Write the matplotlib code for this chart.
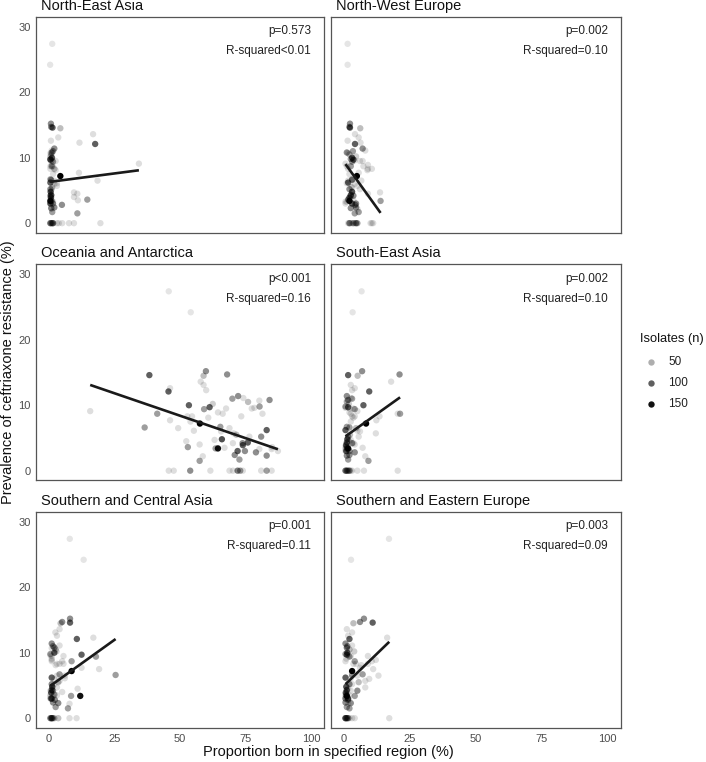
import numpy as np
import matplotlib
matplotlib.use("Agg")
import matplotlib.pyplot as plt

plt.rcParams['font.family'] = ['Liberation Sans', 'DejaVu Sans']

regions = ["North-East Asia", "North-West Europe", "Oceania and Antarctica",
           "South-East Asia", "Southern and Central Asia", "Southern and Eastern Europe"]

# prevalence of ceftriaxone resistance (%) per location (shared across panels)
prevalence = [27.4, 24.2, 9.1, 14.6, 6.6, 8.7, 12.1, 12.6, 7.7, 6.5,
              4.5, 3.6, 10.0, 8.3, 8.3, 7.5, 6.1, 7.2, 4.0, 1.5,
              2.2, 15.2, 13.6, 13.1, 12.3, 9.4, 9.7, 8.1, 0.0, 4.7,
              3.4, 3.4, 8.9, 6.7, 6.0, 8.7, 3.5, 9.5, 14.7, 6.5,
              4.2, 5.7, 11.4, 11.1, 2.4, 3.0, 1.7, 8.3, 4.2, 3.0,
              4.3, 5.2, 9.5, 9.6, 10.7, 9.8, 8.7, 10.8, 5.2, 6.2,
              3.3, 3.3, 2.3, 3.6, 3.0, 0.0, 0.0, 0.0, 0.0, 0.0,
              0.0, 0.0, 0.0, 0.0, 0.0, 0.0, 14.5, 11.0, 10.5, 4.8,
              5.5, 2.8, 3.9, 10.2]
# number of isolates per location
isolates = [15, 15, 20, 100, 60, 60, 100, 20, 20, 20,
            20, 60, 100, 20, 20, 20, 20, 160, 20, 60,
            20, 70, 20, 20, 20, 60, 100, 20, 20, 20,
            60, 150, 20, 60, 20, 20, 20, 20, 70, 20,
            20, 20, 70, 20, 70, 100, 60, 20, 70, 70,
            100, 20, 20, 20, 20, 60, 20, 70, 70, 100,
            20, 20, 70, 20, 20, 20, 20, 70, 20, 20,
            80, 60, 20, 20, 60, 20, 40, 60, 40, 110,
            40, 70, 100, 30]
# proportion born in each region (%) per location
x_ne_asia = [1.2, 0.4, 34.3, 1.3, 0.8, 1.0, 17.6, 0.7, 11.4, 18.5,
             10.8, 14.6, 1.1, 0.5, 2.0, 1.5, 3.0, 4.3, 9.5, 10.8,
             1.0, 0.7, 16.8, 3.5, 11.6, 1.5, 0.5, 2.5, 3.7, 9.5,
             1.0, 0.5, 1.0, 0.5, 2.0, 1.5, 11.0, 0.8, 0.8, 2.0,
             1.0, 3.0, 2.0, 1.0, 2.0, 0.5, 1.2, 2.0, 0.5, 1.5,
             0.8, 1.0, 2.5, 1.0, 0.5, 0.5, 0.5, 1.0, 0.5, 0.5,
             1.5, 0.5, 0.8, 0.5, 0.5, 5.0, 7.6, 0.5, 9.5, 19.6,
             1.0, 1.5, 3.0, 0.5, 1.5, 0.5, 4.3, 1.5, 0.8, 0.6,
             1.2, 4.9, 0.7, 0.5]
x_nw_europe = [1.3, 1.3, 0.5, 2.2, 3.0, 2.5, 4.1, 1.3, 5.5, 6.5,
               9.0, 1.5, 3.0, 10.5, 9.0, 2.0, 1.0, 4.8, 2.5, 4.0,
               5.0, 2.2, 4.1, 5.5, 6.2, 3.0, 3.5, 8.8, 10.5, 13.6,
               13.8, 2.0, 9.0, 3.0, 4.0, 7.3, 3.5, 7.0, 2.0, 1.5,
               2.5, 5.0, 7.0, 8.0, 4.5, 3.0, 5.5, 1.5, 3.5, 4.5,
               2.5, 6.0, 6.0, 4.0, 1.5, 2.5, 1.0, 1.0, 2.0, 1.5,
               1.0, 0.5, 2.5, 1.5, 0.5, 11.0, 3.0, 2.0, 4.0, 2.5,
               4.5, 3.5, 10.0, 1.5, 5.0, 2.0, 6.1, 3.3, 2.0, 3.0,
               2.8, 4.2, 2.0, 4.5]
x_oceania = [45.7, 54.1, 15.7, 38.3, 36.5, 41.3, 45.6, 46.2, 46.2, 49.3,
             52.4, 53.0, 53.4, 52.8, 54.6, 54.0, 55.3, 57.6, 57.5, 57.5,
             58.7, 59.9, 57.9, 59.0, 60.0, 59.2, 61.3, 60.8, 61.6, 63.2,
             63.6, 64.5, 64.5, 65.4, 65.7, 66.3, 67.0, 67.6, 68.0, 68.9,
             70.2, 70.5, 72.2, 74.2, 70.9, 72.0, 72.7, 73.4, 73.9, 74.8,
             75.9, 76.5, 77.4, 78.4, 80.3, 80.4, 81.5, 84.2, 81.0, 83.1,
             80.3, 85.0, 83.1, 85.2, 87.4, 45.7, 47.6, 53.9, 68.9, 70.2,
             72.0, 73.0, 74.0, 81.0, 83.1, 85.0, 59.0, 70.0, 76.0, 66.0,
             71.5, 79.0, 74.0, 62.5]
x_se_asia = [6.6, 3.2, 5.0, 1.5, 2.0, 21.2, 9.5, 4.0, 12.2, 4.5,
             2.0, 1.0, 7.3, 13.4, 3.0, 2.5, 5.0, 8.3, 4.0, 9.2,
             8.0, 6.8, 17.8, 2.5, 3.0, 4.0, 1.5, 3.5, 5.0, 2.5,
             1.0, 1.5, 2.0, 1.0, 6.0, 20.3, 7.0, 2.0, 21.0, 4.5,
             3.5, 12.0, 1.0, 2.5, 2.0, 0.8, 1.5, 4.0, 3.0, 2.0,
             1.0, 5.5, 3.5, 0.5, 1.0, 0.5, 2.5, 1.5, 1.5, 0.5,
             1.5, 0.5, 1.0, 0.5, 0.5, 7.5, 20.3, 1.0, 3.0, 2.0,
             0.5, 1.5, 2.5, 1.0, 2.0, 0.5, 5.1, 3.0, 1.0, 1.2,
             2.2, 4.0, 0.7, 1.8]
x_sc_asia = [7.9, 13.2, 1.0, 8.0, 25.4, 8.6, 10.6, 3.0, 12.4, 3.0,
             10.9, 2.0, 2.0, 4.0, 5.5, 19.1, 6.0, 8.6, 5.0, 7.2,
             7.8, 8.0, 4.0, 2.4, 16.9, 17.9, 12.4, 2.5, 3.5, 3.0,
             8.4, 11.9, 1.0, 4.0, 2.0, 5.0, 3.0, 1.0, 5.0, 6.0,
             0.5, 4.0, 1.0, 4.0, 1.5, 1.0, 2.5, 3.0, 1.5, 0.7,
             1.0, 2.0, 5.5, 0.5, 1.0, 0.5, 1.0, 2.0, 1.0, 1.0,
             0.5, 1.5, 3.5, 0.5, 0.5, 10.5, 7.8, 0.5, 3.5, 2.0,
             1.0, 1.0, 2.0, 0.5, 1.5, 1.0, 4.4, 1.5, 2.5, 1.2,
             3.5, 2.2, 0.8, 2.8]
x_se_europe = [17.0, 2.6, 0.8, 10.8, 3.0, 4.0, 2.0, 1.5, 6.0, 5.0,
               1.5, 0.8, 1.2, 3.5, 9.0, 11.0, 2.5, 3.0, 1.0, 2.0,
               1.5, 7.5, 1.0, 3.0, 16.3, 2.0, 1.0, 6.5, 1.5, 8.0,
               4.0, 1.0, 12.0, 7.0, 9.5, 10.5, 2.0, 9.0, 6.0, 13.0,
               2.5, 8.0, 0.5, 3.0, 0.5, 1.5, 1.0, 4.5, 5.0, 0.5,
               1.0, 3.0, 2.5, 1.5, 1.0, 0.5, 0.5, 1.0, 2.0, 0.5,
               1.0, 0.5, 2.5, 0.5, 0.5, 17.1, 3.0, 1.0, 2.0, 0.5,
               0.5, 1.5, 4.0, 1.0, 0.5, 1.0, 3.5, 1.2, 2.0, 0.8,
               5.5, 1.5, 0.6, 3.8]
x_values = [x_ne_asia, x_nw_europe, x_oceania, x_se_asia, x_sc_asia, x_se_europe]

# fitted regression lines (intercept, slope)
fit_intercept = [6.3, 9.3, 15.25, 5.1, 4.8, 5.0]
fit_slope = [0.052, -0.56, -0.137, 0.288, 0.287, 0.39]
p_labels = ["p=0.573", "p=0.002", "p<0.001", "p=0.002", "p=0.001", "p=0.003"]
r2_labels = ["R-squared<0.01", "R-squared=0.10", "R-squared=0.16",
             "R-squared=0.10", "R-squared=0.11", "R-squared=0.09"]

x_ticks = [0, 25, 50, 75, 100]
y_ticks = [0, 10, 20, 30]
legend_sizes = [50, 100, 150]

W, H = 706, 762
fig = plt.figure(figsize=(W / 100, H / 100), dpi=100)

n_arr = np.array(isolates, dtype=float)
n_min, n_max = n_arr.min(), n_arr.max()


def alpha_of(n):
    return 0.1 + 0.9 * (np.asarray(n, dtype=float) - n_min) / (n_max - n_min)


PT_SIZE = 21

col_left = [36, 331]
col_w = [288, 290]
row_top = [17, 264.5, 512]
row_h = 216

yv = np.array(prevalence)
for i, reg in enumerate(regions):
    r, c = divmod(i, 2)
    ax = fig.add_axes([col_left[c] / W, 1 - (row_top[r] + row_h) / H, col_w[c] / W, row_h / H])
    xv = np.array(x_values[i])
    cols = np.zeros((len(xv), 4))
    cols[:, 3] = np.clip(alpha_of(isolates), 0, 1)
    ax.scatter(xv, yv, s=PT_SIZE, c=cols, linewidths=0, zorder=2)
    xs = np.array([xv.min(), xv.max()])
    ax.plot(xs, fit_intercept[i] + fit_slope[i] * xs, color='#1a1a1a', lw=1.9,
            solid_capstyle='butt', zorder=3)
    ax.set_xlim(-5, 105)
    ax.set_ylim(-1.5, 31.5)
    ax.set_xticks(x_ticks)
    ax.set_yticks(y_ticks)
    ax.tick_params(length=0, labelsize=8, colors='#4d4d4d', pad=4)
    if c == 1:
        ax.set_yticklabels([])
    if r < 2:
        ax.set_xticklabels([])
    for sp in ax.spines.values():
        sp.set_color('#555555')
        sp.set_linewidth(0.9)
    ax.text(100, 29.3, p_labels[i], ha='right', va='center', fontsize=8.5, color='#222222')
    ax.text(100, 26.3, r2_labels[i], ha='right', va='center', fontsize=8.5, color='#222222')
    ax.text(0.018, 1.02, reg, transform=ax.transAxes, ha='left', va='bottom',
            fontsize=10.5, color='#111111')

fig.text(8 / W, 1 - 372 / H, "Prevalence of ceftriaxone resistance (%)", rotation=90,
         ha='center', va='center', fontsize=10.5, color='#111111')
fig.text(328 / W, 1 - 752 / H, "Proportion born in specified region (%)",
         ha='center', va='center', fontsize=10.5, color='#111111')

# legend
fig.text(640 / W, 1 - 339 / H, "Isolates (n)", ha='left', va='center', fontsize=9.3, color='#111111')
lax = fig.add_axes([0, 0, 1, 1], facecolor='none')
lax.set_xlim(0, W)
lax.set_ylim(H, 0)
lax.axis('off')
leg_y = [362, 383, 404]
for yy, n in zip(leg_y, legend_sizes):
    lax.scatter([651], [yy], s=PT_SIZE, color=(0, 0, 0, float(np.clip(alpha_of(n), 0, 1))), linewidths=0)
    lax.text(668, yy, str(n), ha='left', va='center', fontsize=8.5, color='#222222')

fig.savefig("out.png", dpi=100)
